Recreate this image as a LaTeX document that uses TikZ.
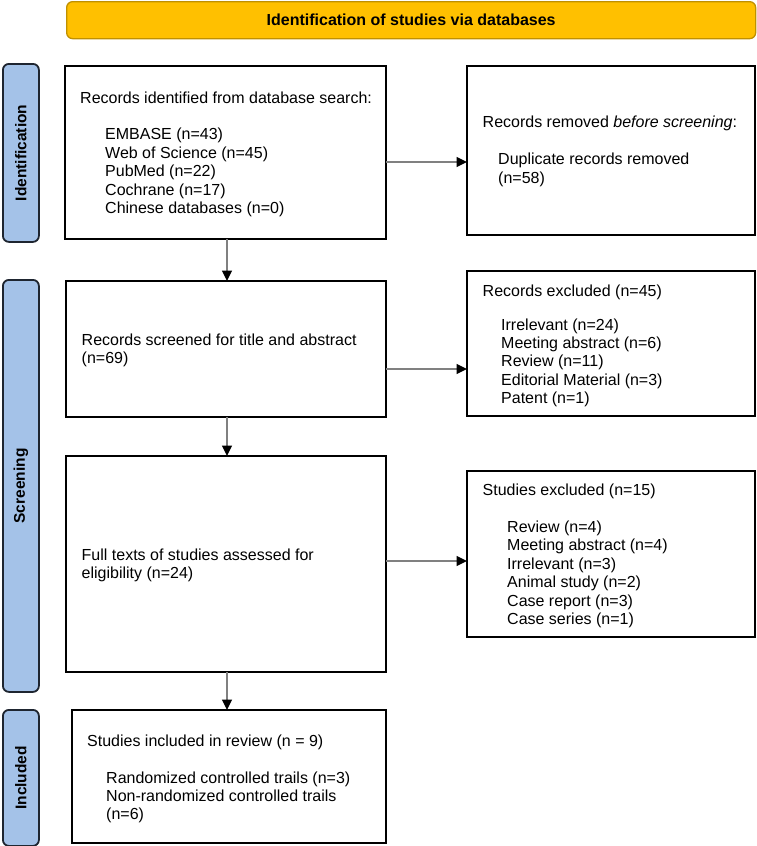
\documentclass[tikz,border=0pt]{standalone}
\usepackage{fontspec}
\setmainfont{Liberation Sans}
\usetikzlibrary{arrows.meta}
\definecolor{gold}{HTML}{FFC000}
\definecolor{goldedge}{HTML}{C09000}
\definecolor{sidefill}{HTML}{A4C2E8}
\definecolor{sideedge}{HTML}{1E2530}
\definecolor{arrgray}{HTML}{808080}
\begin{document}
\begin{tikzpicture}[x=1pt,y=-1pt,
  box/.style={draw=black,line width=1.8pt,fill=white,inner sep=0pt,outer sep=0pt,anchor=north west},
  banner/.style={draw=goldedge,line width=1.3pt,fill=gold,rounded corners=6pt,inner sep=0pt,anchor=north west},
  sidebar/.style={draw=sideedge,line width=1.8pt,fill=sidefill,rounded corners=6pt,inner sep=0pt,anchor=north west,minimum width=36pt},
  sidelabel/.style={rotate=90,font=\fontsize{15.5}{18}\selectfont\bfseries,inner sep=0pt},
  txt/.style={anchor=base west,inner sep=0pt,font=\fontsize{16}{18.4}\selectfont},
  arr/.style={draw=arrgray,line width=1.3pt,-{Triangle[length=10.5pt,width=10pt,color=black]}}
]
\useasboundingbox (0,0) rectangle (756,846);

% banner
\node[banner,minimum width=689pt,minimum height=37pt] (ban) at (66,1) {};
\node[font=\fontsize{16}{18}\selectfont\bfseries,inner sep=0pt] (bantxt) at (ban.center) {Identification of studies via databases};

% side bars
\node[sidebar,minimum height=178pt] (bar1) at (2,63) {};
\node[sidebar,minimum height=412pt] (bar2) at (2,279) {};
\node[sidebar,minimum height=136pt] (bar3) at (2,709) {};
\node[sidelabel] (lab1) at (bar1.center) {Identification};
\node[sidelabel] (lab2) at (bar2.center) {Screening};
\node[sidelabel] (lab3) at (bar3.center) {Included};

% boxes
\node[box,minimum width=321pt,minimum height=173pt] (b1) at (65,66) {};
\node[box,minimum width=288pt,minimum height=169pt] (b2) at (467,66) {};
\node[box,minimum width=320pt,minimum height=136pt] (b3) at (66,281) {};
\node[box,minimum width=288pt,minimum height=145pt] (b4) at (467,271) {};
\node[box,minimum width=320pt,minimum height=216pt] (b5) at (66,456) {};
\node[box,minimum width=288pt,minimum height=166pt] (b6) at (467,471) {};
\node[box,minimum width=314pt,minimum height=133pt] (b7) at (72,710) {};

% box 1 text
\node[txt] (t1a) at (80,103.5) {Records identified from database search:};
\node[txt] (t1b) at (105,139.5) {EMBASE (n=43)};
\node[txt] (t1c) at (105,158) {Web of Science (n=45)};
\node[txt] (t1d) at (105,176.5) {PubMed (n=22)};
\node[txt] (t1e) at (105,195) {Cochrane (n=17)};
\node[txt] (t1f) at (105,213.5) {Chinese databases (n=0)};

% box 2 text
\node[txt] (t2a) at (482.5,127.5) {Records removed \textit{before screening}:};
\node[txt] (t2b) at (498,164.5) {Duplicate records removed};
\node[txt] (t2c) at (498,183) {(n=58)};

% box 3 text
\node[txt] (t3a) at (81.5,345) {Records screened for title and abstract};
\node[txt] (t3b) at (81.5,363.4) {(n=69)};

% box 4 text
\node[txt] (t4a) at (482.5,296.5) {Records excluded (n=45)};
\node[txt] (t4b) at (501,330) {Irrelevant (n=24)};
\node[txt] (t4c) at (501,348.4) {Meeting abstract (n=6)};
\node[txt] (t4d) at (501,366.8) {Review (n=11)};
\node[txt] (t4e) at (501,385.2) {Editorial Material (n=3)};
\node[txt] (t4f) at (501,403.6) {Patent (n=1)};

% box 5 text
\node[txt] (t5a) at (81.5,560) {Full texts of studies assessed for};
\node[txt] (t5b) at (81.5,578.4) {eligibility (n=24)};

% box 6 text
\node[txt] (t6a) at (482.5,495.3) {Studies excluded (n=15)};
\node[txt] (t6b) at (507,532) {Review (n=4)};
\node[txt] (t6c) at (507,550.5) {Meeting abstract (n=4)};
\node[txt] (t6d) at (507,569) {Irrelevant (n=3)};
\node[txt] (t6e) at (507,587.5) {Animal study (n=2)};
\node[txt] (t6f) at (507,606) {Case report (n=3)};
\node[txt] (t6g) at (507,624.5) {Case series (n=1)};

% box 7 text
\node[txt] (t7a) at (87,746) {Studies included in review (n = 9)};
\node[txt] (t7b) at (106,783) {Randomized controlled trails (n=3)};
\node[txt] (t7c) at (106,801.4) {Non-randomized controlled trails};
\node[txt] (t7d) at (106,819.8) {(n=6)};

% connectors
\coordinate (ax) at (227,0);
\coordinate (ay1) at (0,162);
\coordinate (ay2) at (0,369);
\coordinate (ay3) at (0,561);
\draw[arr] (b1.south -| ax) -- (b3.north -| ax);
\draw[arr] (b3.south -| ax) -- (b5.north -| ax);
\draw[arr] (b5.south -| ax) -- (b7.north -| ax);
\draw[arr] (b1.east |- ay1) -- (b2.west |- ay1);
\draw[arr] (b3.east |- ay2) -- (b4.west |- ay2);
\draw[arr] (b5.east |- ay3) -- (b6.west |- ay3);
\end{tikzpicture}
\end{document}
